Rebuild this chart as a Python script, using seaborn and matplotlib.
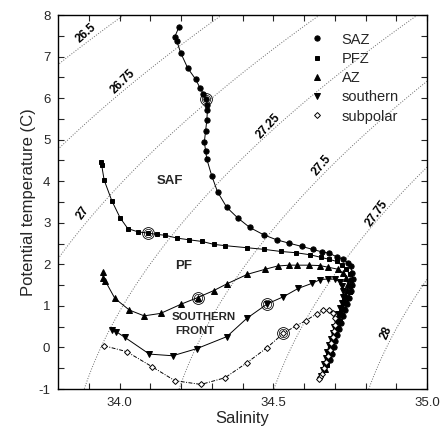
import numpy as np
import pandas as pd
import matplotlib
matplotlib.use("Agg")
import matplotlib.pyplot as plt
import seaborn as sns
from matplotlib.lines import Line2D

# ---------------- data ----------------
zones = ["SAZ", "PFZ", "AZ", "southern", "subpolar"]

saz_sal = [34.194, 34.180, 34.186, 34.199, 34.222, 34.248, 34.262, 34.273, 34.281,
           34.286, 34.286, 34.284, 34.280, 34.276, 34.280, 34.284, 34.300, 34.319,
           34.349, 34.384, 34.423, 34.469, 34.511, 34.551, 34.593, 34.628, 34.658,
           34.682, 34.706, 34.728, 34.744, 34.752, 34.757, 34.758, 34.756, 34.752,
           34.746, 34.740, 34.733, 34.727, 34.720, 34.714, 34.708, 34.702, 34.697,
           34.692, 34.686]
saz_temp = [7.72, 7.48, 7.38, 7.09, 6.72, 6.45, 6.24, 6.10, 5.97,
            5.83, 5.71, 5.47, 5.21, 4.95, 4.73, 4.53, 4.13, 3.74,
            3.37, 3.12, 2.89, 2.71, 2.59, 2.51, 2.43, 2.36, 2.30,
            2.27, 2.18, 2.12, 2.03, 1.95, 1.80, 1.65, 1.50, 1.35,
            1.20, 1.05, 0.90, 0.75, 0.60, 0.45, 0.30, 0.15, 0.00,
            -0.15, -0.30]

pfz_sal = [33.939, 33.942, 33.950, 33.975, 34.002, 34.027, 34.061, 34.094, 34.121,
           34.148, 34.188, 34.227, 34.269, 34.307, 34.343, 34.414, 34.471, 34.524,
           34.573, 34.620, 34.654, 34.682, 34.706, 34.722, 34.738, 34.748, 34.752,
           34.751, 34.748, 34.743, 34.737, 34.730, 34.723, 34.716, 34.710, 34.704,
           34.698, 34.692, 34.687, 34.681, 34.676]
pfz_temp = [4.47, 4.39, 4.03, 3.53, 3.12, 2.86, 2.78, 2.75, 2.72,
            2.70, 2.63, 2.59, 2.55, 2.48, 2.45, 2.40, 2.36, 2.31,
            2.28, 2.23, 2.17, 2.12, 2.07, 1.98, 1.88, 1.76, 1.62,
            1.48, 1.34, 1.20, 1.06, 0.92, 0.78, 0.63, 0.48, 0.33,
            0.18, 0.03, -0.12, -0.27, -0.42]

az_sal = [33.945, 33.947, 33.953, 33.985, 34.032, 34.080, 34.134, 34.200, 34.254,
          34.307, 34.349, 34.416, 34.473, 34.514, 34.552, 34.576, 34.616, 34.652,
          34.679, 34.712, 34.728, 34.738, 34.742, 34.741, 34.738, 34.733, 34.727,
          34.720, 34.713, 34.706, 34.700, 34.694, 34.688, 34.682, 34.677, 34.672,
          34.667]
az_temp = [1.82, 1.66, 1.61, 1.18, 0.90, 0.76, 0.82, 1.04, 1.20,
           1.37, 1.53, 1.76, 1.88, 1.96, 1.98, 1.98, 1.98, 1.97,
           1.93, 1.88, 1.78, 1.66, 1.52, 1.38, 1.24, 1.10, 0.96,
           0.82, 0.67, 0.52, 0.37, 0.22, 0.07, -0.08, -0.23, -0.38,
           -0.52]

southern_sal = [33.975, 33.989, 34.018, 34.097, 34.173, 34.251, 34.349, 34.414, 34.481,
                34.533, 34.581, 34.625, 34.652, 34.679, 34.701, 34.717, 34.725, 34.728,
                34.727, 34.723, 34.718, 34.712, 34.705, 34.699, 34.693, 34.687, 34.681,
                34.676, 34.671, 34.666, 34.661, 34.656]
southern_temp = [0.42, 0.38, 0.24, -0.16, -0.20, -0.03, 0.26, 0.70, 1.05,
                 1.22, 1.42, 1.54, 1.63, 1.65, 1.64, 1.58, 1.48, 1.36,
                 1.22, 1.08, 0.94, 0.80, 0.65, 0.50, 0.35, 0.20, 0.05,
                 -0.10, -0.25, -0.40, -0.55, -0.68]

subpolar_sal = [33.950, 34.023, 34.105, 34.180, 34.265, 34.343, 34.414, 34.479, 34.533,
                34.574, 34.605, 34.641, 34.663, 34.682, 34.695, 34.700, 34.700, 34.697,
                34.693, 34.688, 34.683, 34.678, 34.672, 34.666, 34.659, 34.652, 34.649]
subpolar_temp = [0.04, -0.10, -0.46, -0.80, -0.89, -0.73, -0.37, -0.01, 0.34,
                 0.52, 0.64, 0.81, 0.89, 0.90, 0.82, 0.70, 0.55, 0.40,
                 0.25, 0.10, -0.05, -0.20, -0.35, -0.50, -0.63, -0.72, -0.77]

# index of the circled station in each series
circled_index = [8, 7, 8, 8, 8]

sigma_levels = [26.5, 26.75, 27.0, 27.25, 27.5, 27.75, 28.0]
sigma_labels = ["26.5", "26.75", "27", "27.25", "27.5", "27.75", "28"]
sigma_label_sal = [33.893, 34.012, 33.880, 34.484, 34.658, 34.836, 34.869]
sigma_label_temp = [7.56, 6.40, 3.23, 5.33, 4.39, 3.23, 0.34]

front_names = ["SAF", "PF", "SOUTHERN", "FRONT"]
front_sal = [34.164, 34.207, 34.273, 34.246]
front_temp = [4.01, 1.96, 0.74, 0.40]
front_sizes = [9.5, 9.5, 8.2, 8.2]

x_ticks = [34.0, 34.5, 35.0]
x_ticklabels = ["34.0", "34.5", "35.0"]
y_ticks = [-1, 0, 1, 2, 3, 4, 5, 6, 7, 8]

# ---------------- helpers ----------------
def sigma0(S, T):
    """UNESCO 1981 density at surface pressure, minus 1000."""
    rw = (999.842594 + 6.793952e-2 * T - 9.095290e-3 * T**2 + 1.001685e-4 * T**3
          - 1.120083e-6 * T**4 + 6.536332e-9 * T**5)
    A = (0.824493 - 4.0899e-3 * T + 7.6438e-5 * T**2 - 8.2467e-7 * T**3
         + 5.3875e-9 * T**4)
    B = -5.72466e-3 + 1.0227e-4 * T - 1.6546e-6 * T**2
    C = 4.8314e-4
    return rw + A * S + B * S**1.5 + C * S**2 - 1000.0

frames = []
for z, s, t in zip(zones,
                   [saz_sal, pfz_sal, az_sal, southern_sal, subpolar_sal],
                   [saz_temp, pfz_temp, az_temp, southern_temp, subpolar_temp]):
    frames.append(pd.DataFrame({"zone": z, "Salinity": s, "Temp": t,
                                "order": range(len(s))}))
df = pd.concat(frames, ignore_index=True)

# ---------------- figure ----------------
sns.set_style("ticks")
plt.rcParams["font.family"] = ["Liberation Sans", "DejaVu Sans"]
plt.rcParams["axes.unicode_minus"] = False

fig = plt.figure(figsize=(4.4, 4.41), dpi=100)
ax = fig.add_axes([58 / 440, 1 - 389 / 441, 369 / 440, 374 / 441])

xmin, xmax, ymin, ymax = 33.8, 35.0, -1.0, 8.0
ax.set_xlim(xmin, xmax)
ax.set_ylim(ymin, ymax)

# density contours
Sg, Tg = np.meshgrid(np.linspace(xmin, xmax, 300), np.linspace(ymin, ymax, 300))
ax.contour(Sg, Tg, sigma0(Sg, Tg), levels=sigma_levels, colors="#6a6a6a",
           linestyles=":", linewidths=0.7)

# contour labels, rotated along the isopycnal in display space
fig.canvas.draw()
for lab, s, t in zip(sigma_labels, sigma_label_sal, sigma_label_temp):
    eps = 1e-3
    dSdS = (sigma0(s + eps, t) - sigma0(s - eps, t)) / (2 * eps)
    dSdT = (sigma0(s, t + eps) - sigma0(s, t - eps)) / (2 * eps)
    p0 = ax.transData.transform((s, t))
    p1 = ax.transData.transform((s - dSdT * 0.01, t + dSdS * 0.01))
    ang = np.degrees(np.arctan2(p1[1] - p0[1], p1[0] - p0[0])) + 5
    ax.text(s, t, lab, fontsize=8.5, fontweight="bold", rotation=ang,
            rotation_mode="anchor", ha="center", va="center", color="black")

styles = {
    "SAZ": dict(marker="o", markersize=3.8, markerfacecolor="black", linestyle="-"),
    "PFZ": dict(marker="s", markersize=3.3, markerfacecolor="black", linestyle="-"),
    "AZ": dict(marker="^", markersize=3.8, markerfacecolor="black", linestyle="-"),
    "southern": dict(marker="v", markersize=3.8, markerfacecolor="black", linestyle="-"),
    "subpolar": dict(marker="D", markersize=3.0, markerfacecolor="white",
                     linestyle=(0, (4, 1.5, 1, 1.5))),
}

for z in zones:
    sub = df[df["zone"] == z]
    st = styles[z]
    sns.lineplot(data=sub, x="Salinity", y="Temp", sort=False, estimator=None,
                 color="black", linewidth=0.7, marker=st["marker"],
                 markersize=st["markersize"], markerfacecolor=st["markerfacecolor"],
                 markeredgecolor="black", markeredgewidth=0.7,
                 linestyle=st["linestyle"], ax=ax, legend=False)

# circled stations
for z, idx in zip(zones, circled_index):
    sub = df[df["zone"] == z].reset_index(drop=True)
    cx, cy = sub.loc[idx, "Salinity"], sub.loc[idx, "Temp"]
    ax.plot([cx], [cy], "o", markerfacecolor="none", markeredgecolor="black",
            markersize=8.5, markeredgewidth=0.6)
    ax.plot([cx], [cy], "o", markerfacecolor="none", markeredgecolor="black",
            markersize=6.0, markeredgewidth=0.5)

# front names
for name, s, t, fs in zip(front_names, front_sal, front_temp, front_sizes):
    ax.text(s, t, name, fontsize=fs, fontweight="bold", ha="center", va="center")

# legend (markers only)
handles = [Line2D([], [], linestyle="none", color="black",
                  marker=styles[z]["marker"], markersize=styles[z]["markersize"],
                  markerfacecolor=styles[z]["markerfacecolor"],
                  markeredgecolor="black", markeredgewidth=0.7) for z in zones]
ax.legend(handles, zones, loc="upper left", bbox_to_anchor=(0.682, 0.953),
          frameon=False, fontsize=10.5, handlelength=1.0, handletextpad=1.2,
          borderpad=0, borderaxespad=0, labelspacing=0.36)

# axes cosmetics
ax.set_xticks(x_ticks)
ax.set_xticklabels(x_ticklabels)
ax.set_xticks(np.arange(33.9, 35.0, 0.1), minor=True)
ax.set_yticks(y_ticks)
ax.set_yticklabels([str(v) for v in y_ticks])
ax.set_yticks(np.arange(-0.5, 8.0, 1.0), minor=True)
ax.tick_params(which="both", direction="in", top=True, right=True,
               length=4, width=0.8, labelsize=9.5, pad=5.5)
for sp in ax.spines.values():
    sp.set_linewidth(1.0)
    sp.set_color("black")

ax.set_xlabel("Salinity", fontsize=12, labelpad=2)
ax.set_ylabel("Potential temperature (C)", fontsize=12, labelpad=2)

fig.savefig("out.png", dpi=100)
